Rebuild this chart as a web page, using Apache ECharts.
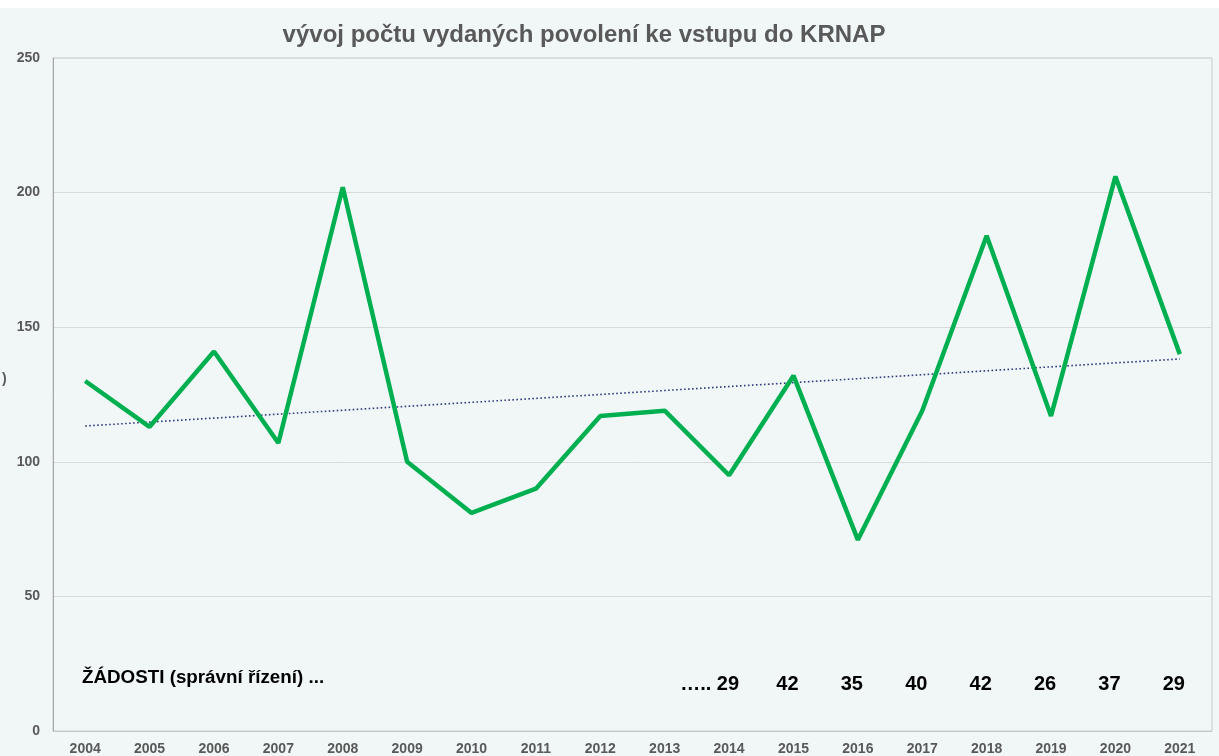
<!DOCTYPE html>
<html><head><meta charset="utf-8">
<script src="https://cdn.jsdelivr.net/npm/echarts@6/dist/echarts.min.js"></script>
<style>html,body{margin:0;padding:0;background:#fff}#c{width:1219px;height:756px}</style>
</head><body><div id="c"></div>
<script>
const years = ['2004','2005','2006','2007','2008','2009','2010','2011','2012','2013','2014','2015','2016','2017','2018','2019','2020','2021'];
const permits = [130,113,141,107,202,100,81,90,117,119,95,132,71,119,184,117,206,140];
const trendEnds = [113.3,138.2];
const requestYears = ['2014','2015','2016','2017','2018','2019','2020','2021'];
const requests = [29,42,35,40,42,26,37,29];
const yTicks = [0,50,100,150,200,250];

const font = '"Liberation Sans", Arial, sans-serif';
const chart = echarts.init(document.getElementById('c'), null, {renderer:'canvas'});
chart.setOption({
  backgroundColor:'#f1f7f7',
  animation:false,
  title:{text:'vývoj počtu vydaných povolení ke vstupu do KRNAP', left:579, textAlign:'center', top:18,
    textStyle:{fontFamily:font, fontWeight:'bold', fontSize:24, color:'#595959'}},
  grid:{left:53, right:7, top:58, bottom:25, show:true, borderColor:'#c8c8c8', borderWidth:1, backgroundColor:'transparent'},
  xAxis:{type:'category', data:years, boundaryGap:true,
    axisLine:{lineStyle:{color:'#c8c8c8'}}, axisTick:{show:false},
    axisLabel:{fontFamily:font, fontWeight:'bold', fontSize:14, color:'#595959', margin:11}},
  yAxis:{type:'value', min:0, max:250, interval:50,
    axisLine:{show:true, lineStyle:{color:'#a6a6a6'}},
    splitLine:{lineStyle:{color:'#d9d9d9'}},
    axisLabel:{fontFamily:font, fontWeight:'bold', fontSize:14, color:'#595959', margin:13,
      formatter:v=>yTicks.includes(v)?String(v):''}},
  graphic:[
    {type:'rect', left:0, top:0, shape:{width:1219, height:8}, style:{fill:'#ffffff'}},
    {type:'text', left:2, top:372, style:{text:')', font:'bold 14px '+font, fill:'#595959'}},
    {type:'text', left:82, top:668, style:{text:'ŽÁDOSTI (správní řízení) ...', font:'bold 18.8px '+font, fill:'#000'}}
  ],
  series:[
    {type:'line', data:permits, symbol:'none', lineStyle:{color:'#00b050', width:4.5}, z:3},
    {type:'line', data:[[0,trendEnds[0]],[years.length-1,trendEnds[1]]], symbol:'none',
      lineStyle:{color:'#2f3b7f', width:1.6, type:[1.6,2.4]}, z:2},
    {type:'scatter', symbol:'circle', symbolSize:1, itemStyle:{color:'rgba(0,0,0,0)', opacity:1}, silent:true,
      data:requests.map((v,i)=>({value:[requestYears[i],17.3], label:{formatter:(i===0?'….. ':'')+v, color:'#000000', align:i===0?'right':'center', offset:i===0?[10,0]:[-6,0]}})),
      label:{show:true, position:'inside', fontFamily:font, fontWeight:'bold', fontSize:20, color:'#000000', opacity:1, textBorderWidth:0}}
  ]
});
</script></body></html>
